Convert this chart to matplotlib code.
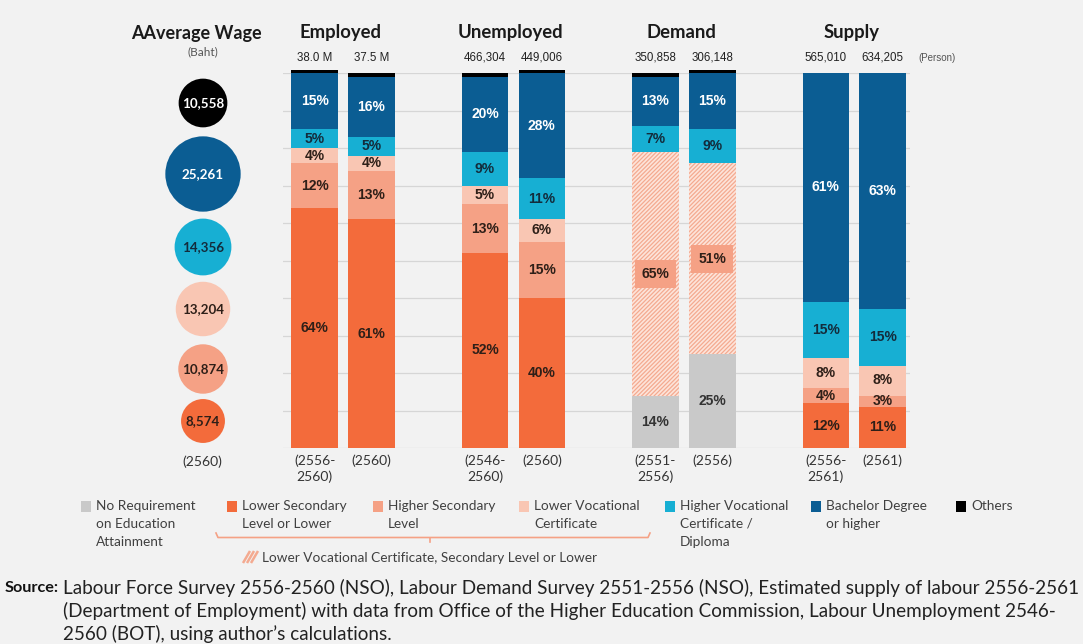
import matplotlib
matplotlib.use('Agg')
import matplotlib.pyplot as plt
from matplotlib import font_manager as fm
from matplotlib.patches import Rectangle
import numpy as np

# ---------------- data ----------------
groups = ['Employed', 'Unemployed', 'Demand', 'Supply']
period_labels = ['(2556-\n2560)', '(2560)', '(2546-\n2560)', '(2560)',
                 '(2551-\n2556)', '(2556)', '(2556-\n2561)', '(2561)']
totals = ['38.0 M', '37.5 M', '466,304', '449,006', '350,858', '306,148', '565,010', '634,205']

no_requirement    = [0, 0, 0, 0, 14, 25, 0, 0]
lower_secondary   = [64, 61, 52, 40, 0, 0, 12, 11]
higher_secondary  = [12, 13, 13, 15, 0, 0, 4, 3]
lower_vocational  = [4, 4, 5, 6, 0, 0, 8, 8]
combined_lower    = [0, 0, 0, 0, 65, 51, 0, 0]
higher_vocational = [5, 5, 9, 11, 7, 9, 15, 15]
bachelor          = [15, 16, 20, 28, 13, 15, 61, 63]
others            = [0.8, 1, 1, 0.8, 1, 0.8, 0, 0]

wage_labels = ['10,558', '25,261', '14,356', '13,204', '10,874', '8,574']
wages = [10558, 25261, 14356, 13204, 10874, 8574]

legend_labels = ['No Requirement\non Education\nAttainment', 'Lower Secondary\nLevel or Lower',
                 'Higher Secondary\nLevel', 'Lower Vocational\nCertificate',
                 'Higher Vocational\nCertificate /\nDiploma', 'Bachelor Degree\nor higher', 'Others']
combined_label = 'Lower Vocational Certificate, Secondary Level or Lower'

source_lines = ['Labour Force Survey 2556-2560 (NSO), Labour Demand Survey 2551-2556 (NSO), Estimated supply of labour 2556-2561',
                '(Department of Employment) with data from Office of the Higher Education Commission, Labour Unemployment 2546-',
                '2560 (BOT), using author\u2019s calculations.']

# ---------------- style ----------------
BG = '#f2f2f2'
C_GRAY = '#c9c9c9'
C_ORANGE = '#f36b3b'
C_SALMON = '#f5a185'
C_PINK = '#f9c6b3'
C_CYAN = '#17afd3'
C_BLUE = '#0b5d93'
C_BLACK = '#000000'
C_HATCH_BG = '#fde4da'
C_HATCH = '#f4aa90'
DARK = '#2e1f18'
NAVY = '#132c3c'


def has_font(name):
    try:
        fm.findfont(fm.FontProperties(family=name), fallback_to_default=False)
        return True
    except Exception:
        return False


HEAD = 'Lato' if has_font('Lato') else 'DejaVu Sans'
ARIAL = 'Liberation Sans' if has_font('Liberation Sans') else 'DejaVu Sans'
SRC = 'Liberation Sans Narrow' if has_font('Liberation Sans Narrow') else HEAD

plt.rcParams['hatch.linewidth'] = 0.9

W, H = 1083, 644
fig = plt.figure(figsize=(W / 100, H / 100), dpi=100, facecolor=BG)

# overlay axes in pixel coordinates for side elements
ov = fig.add_axes([0, 0, 1, 1])
ov.set_xlim(0, W)
ov.set_ylim(H, 0)
ov.axis('off')

# main bar axes
ax = fig.add_axes([283 / W, (H - 448) / H, 627 / W, 375 / H])
ax.patch.set_alpha(0)
ax.set_xlim(-1.056, 9.98)
ax.set_ylim(0, 100)
ax.set_yticks(np.arange(0, 101, 10))
ax.yaxis.grid(True, color='#d6d6d6', lw=0.9)
ax.set_axisbelow(True)
ax.tick_params(left=False, bottom=False, labelleft=False, labelbottom=False)
for s in ax.spines.values():
    s.set_visible(False)

xpos = [3 * g + d for g in range(len(groups)) for d in (-0.5, 0.5)]
bw = 0.82

layers = [
    (no_requirement, C_GRAY, '#333333', False),
    (lower_secondary, C_ORANGE, DARK, False),
    (higher_secondary, C_SALMON, DARK, False),
    (lower_vocational, C_PINK, DARK, False),
    (combined_lower, C_HATCH_BG, DARK, True),
    (higher_vocational, C_CYAN, NAVY, False),
    (bachelor, C_BLUE, 'white', False),
    (others, C_BLACK, None, False),
]

bottom = np.zeros(len(xpos))
for vals, col, tcol, hatched in layers:
    vals = np.array(vals, dtype=float)
    if hatched:
        ax.bar(xpos, vals, bw, bottom=bottom, color=col, edgecolor=C_HATCH,
               hatch='////////', linewidth=0, clip_on=False, zorder=2)
    else:
        ax.bar(xpos, vals, bw, bottom=bottom, color=col, linewidth=0,
               clip_on=False, zorder=2)
    if tcol is not None:
        for x, b, v in zip(xpos, bottom, vals):
            if v > 0:
                kw = {}
                if hatched:
                    kw['bbox'] = dict(boxstyle='square,pad=0.5', facecolor=C_SALMON, edgecolor='none')
                ax.text(x, b + v / 2, f'{v:.0f}%', ha='center', va='center', fontsize=10,
                        fontweight='bold', color=tcol, family=ARIAL, zorder=4, **kw)
    bottom += vals

# totals above bars
for x, t in zip(xpos, totals):
    ax.text(x, 104, t, ha='center', va='center', fontsize=8.3, color='#222222',
            family=ARIAL, clip_on=False)
ax.text(10.12, 104, '(Person)', ha='left', va='center', fontsize=7, color='#555555',
        family=ARIAL, clip_on=False)

# group titles
for g, name in enumerate(groups):
    ax.text(3 * g - 0.05, 110.7, name, ha='center', va='center', fontsize=13.3,
            fontweight='bold', color='#1a1a1a', family=HEAD, clip_on=False)

# period labels
for x, lab in zip(xpos, period_labels):
    ax.text(x, -1.7, lab, ha='center', va='top', fontsize=10, color='#333333',
            family=HEAD, linespacing=1.3, clip_on=False)

# ---------------- average wage circles ----------------
circle_x = 203
circle_y = [103, 174, 247, 309, 369, 421]
circle_colors = [C_BLACK, C_BLUE, C_CYAN, C_PINK, C_SALMON, C_ORANGE]
circle_tcolors = ['white', 'white', NAVY, DARK, DARK, DARK]
ov.scatter([circle_x] * len(wages), circle_y, s=[w * 0.1165 for w in wages],
           c=circle_colors, linewidths=0, zorder=3)
for y, lab, tc in zip(circle_y, wage_labels, circle_tcolors):
    ov.text(circle_x, y, lab, ha='center', va='center', fontsize=9.6, fontweight='bold',
            color=tc, family=HEAD, zorder=4)

t_avg = ov.text(131, 33, 'AAverage Wage', ha='left', va='center', fontsize=13.3,
                fontweight='bold', color='#1a1a1a', family=HEAD)
ov.text(203, 52, '(Baht)', ha='center', va='center', fontsize=8.5, color='#555555', family=HEAD)
ov.text(202, 462, '(2560)', ha='center', va='center', fontsize=10, color='#333333', family=HEAD)

# ---------------- legend ----------------
leg_x = [81, 227, 373, 519, 665, 811, 956]
leg_colors = [C_GRAY, C_ORANGE, C_SALMON, C_PINK, C_CYAN, C_BLUE, C_BLACK]
for x, c, lab in zip(leg_x, leg_colors, legend_labels):
    ov.add_patch(Rectangle((x, 501), 10, 11, facecolor=c, edgecolor='none'))
    ov.text(x + 15, 499.5, lab, ha='left', va='top', fontsize=9.8, color='#404040',
            family=HEAD, linespacing=1.62)

ov.plot([216, 218, 648, 650], [533, 537.5, 537.5, 533], color=C_SALMON, lw=1.2)
ov.plot([430, 430], [537.5, 542], color=C_SALMON, lw=1.2)
for i in range(3):
    ov.plot([243 + 4 * i, 250 + 4 * i], [563, 551], color=C_HATCH, lw=1.8,
            solid_capstyle='butt')
ov.text(262, 558, combined_label, ha='left', va='center', fontsize=9.8,
        color='#404040', family=HEAD)

# ---------------- source ----------------
src_y = [588, 611, 634]
t_src = ov.text(59, src_y[0], 'Source:', ha='right', va='center', fontsize=11,
                fontweight='bold', color='#111111', family=SRC)
t_lines = [ov.text(63, y, line, ha='left', va='center', fontsize=11, color='#222222',
                   family=SRC) for y, line in zip(src_y, source_lines)]
fig.canvas.draw()
r = fig.canvas.get_renderer()
fs = 11 * 1016 / t_lines[0].get_window_extent(r).width
for t in t_lines:
    t.set_fontsize(fs)
t_src.set_fontsize(11 * 54 / t_src.get_window_extent(r).width)
# fit the heading to its reference extent
t_avg.set_fontsize(13.3 * 131 / t_avg.get_window_extent(r).width)

fig.savefig('out.png', dpi=100, facecolor=BG)
